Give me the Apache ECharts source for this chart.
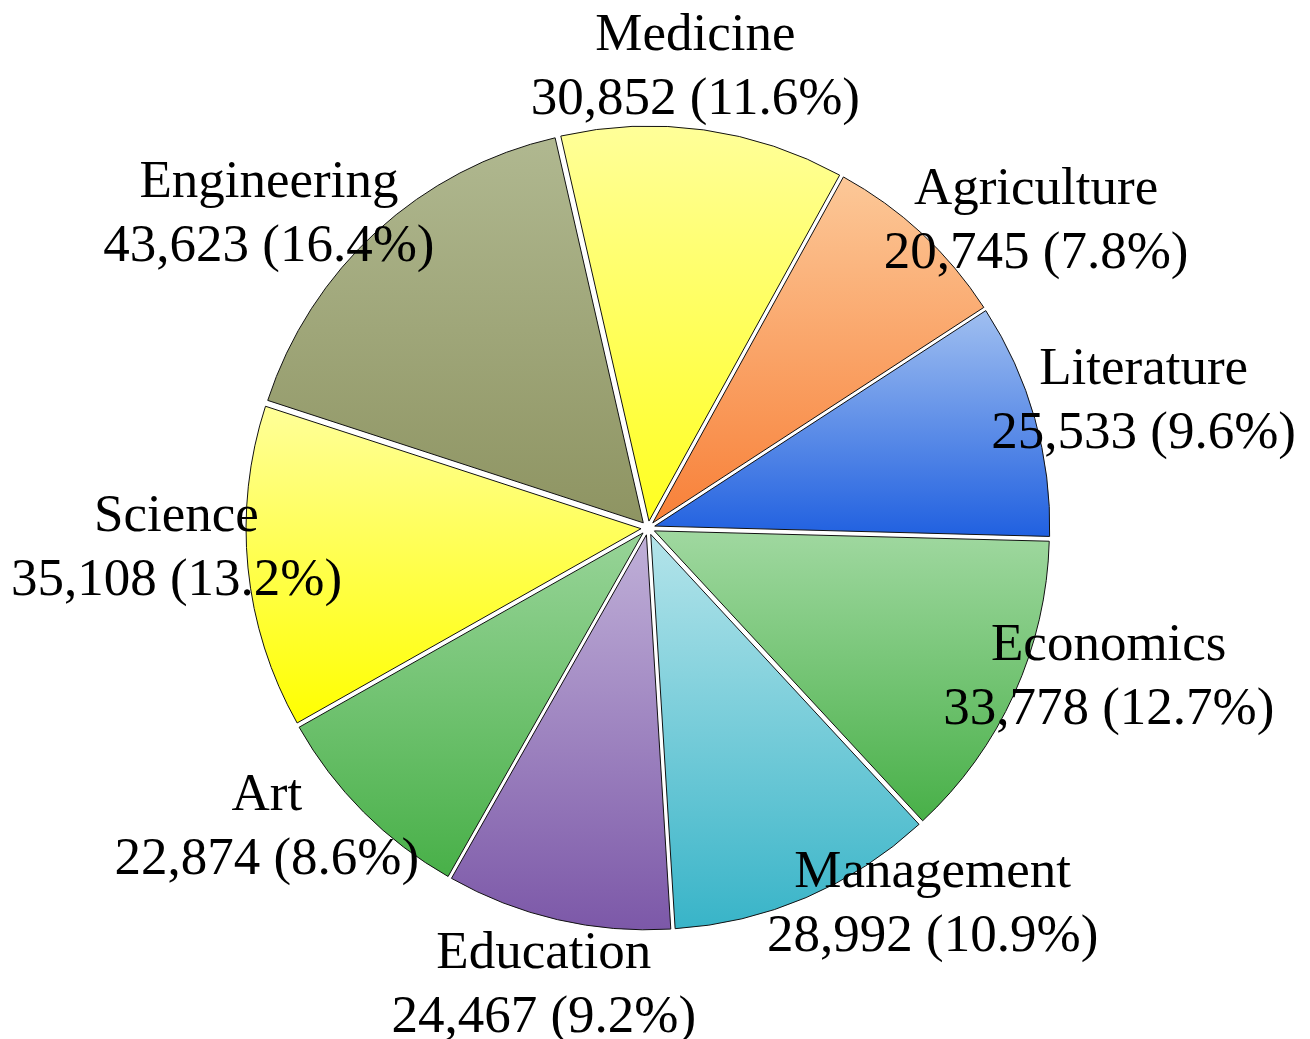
<!DOCTYPE html>
<html>
<head>
<meta charset="utf-8">
<script src="https://cdn.jsdelivr.net/npm/echarts@6/dist/echarts.min.js"></script>
<style>
  html, body { margin: 0; padding: 0; background: #fff; }
  #chart { width: 1310px; height: 1039px; }
</style>
</head>
<body>
<div id="chart"></div>
<script>
// slices listed counterclockwise starting just below east
const categories = ['Literature', 'Agriculture', 'Medicine', 'Engineering', 'Science', 'Art', 'Education', 'Management', 'Economics']
const counts = [25533, 20745, 30852, 43623, 35108, 22874, 24467, 28992, 33778]
// gradient top / bottom colour of each slice
const topColors = ['#a0bff0', '#fcc898', '#ffff99', '#b0b890', '#ffff99', '#98d498', '#c0b0d8', '#b4e4ea', '#a0d8a0']
const bottomColors = ['#2060e0', '#f88038', '#ffff20', '#8e9462', '#ffff00', '#48b048', '#7c58a8', '#38b4c8', '#48b048']
// hand nudges so the labels sit where the original put them
const labelNudge = [[29, 6], [58, 49], [-20, 20], [-52, 45], [11, -27], [-38, -42], [5, -14], [94, -69], [19, -50]]

const chart = echarts.init(document.getElementById('chart'))

const center = [648, 528]
const R = 395

const sliceData = categories.map((name, i) => ({
  name,
  value: counts[i],
  selected: true,
  itemStyle: {
    color: new echarts.graphic.LinearGradient(0, 0, 0, 1, [
      { offset: 0, color: topColors[i] },
      { offset: 1, color: bottomColors[i] }
    ])
  }
}))

const labelData = categories.map((name, i) => ({
  name,
  value: counts[i],
  label: { offset: labelNudge[i] }
}))

function fmtLabel(p) {
  return p.name + '\n' + p.value.toLocaleString('en-US') + ' (' + p.percent.toFixed(1) + '%)'
}

chart.setOption({
  animation: false,
  series: [
    {
      type: 'pie',
      center,
      radius: R,
      startAngle: -1.5,
      clockwise: false,
      selectedMode: 'multiple',
      selectedOffset: 7,
      silent: true,
      label: { show: false },
      labelLine: { show: false },
      itemStyle: { borderColor: '#111', borderWidth: 1 },
      data: sliceData
    },
    {
      // transparent ring, only carries the labels around the pie
      type: 'pie',
      center,
      radius: [R * 1.1, R * 1.34],
      startAngle: -1.5,
      clockwise: false,
      silent: true,
      avoidLabelOverlap: false,
      z: 5,
      itemStyle: { color: 'rgba(0,0,0,0)', borderWidth: 0 },
      labelLayout: { hideOverlap: false },
      label: {
        show: true,
        position: 'inside',
        formatter: fmtLabel,
        fontFamily: '"Liberation Serif", "Times New Roman", serif',
        fontSize: 53,
        lineHeight: 64,
        color: '#000',
        align: 'center'
      },
      labelLine: { show: false },
      data: labelData
    }
  ]
})
</script>
</body>
</html>
